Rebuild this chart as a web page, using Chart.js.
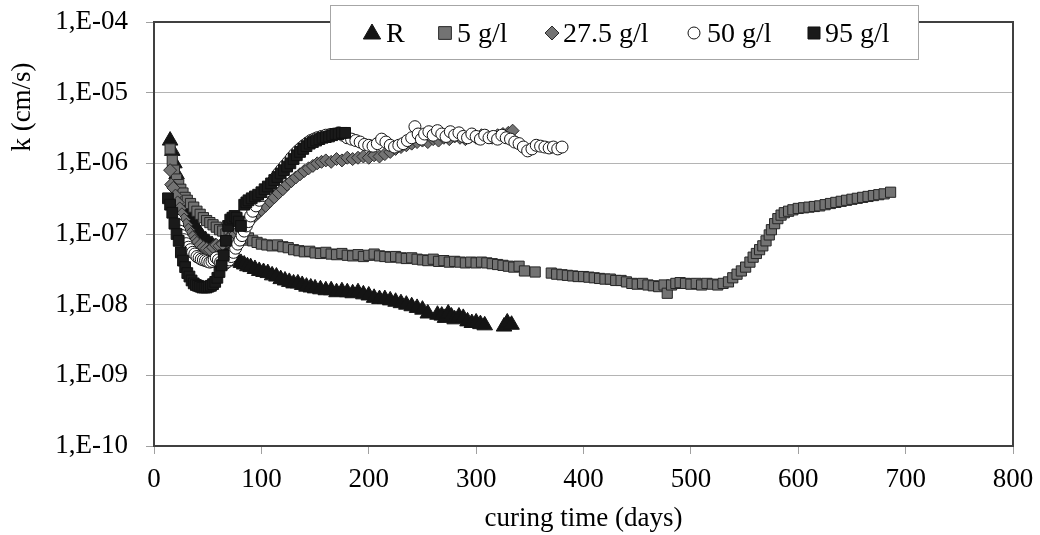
<!DOCTYPE html>
<html>
<head>
<meta charset="utf-8">
<script src="https://cdn.jsdelivr.net/npm/chart.js@4/dist/chart.umd.min.js"></script>
<style>
  html, body { margin: 0; padding: 0; background: #fff; }
  #wrap { width: 1040px; height: 535px; }
</style>
</head>
<body>
<div id="wrap"><canvas id="kChart"></canvas></div>
<script>
// series names (legend order)
const seriesNames = ["R", "5 g/l", "27.5 g/l", "50 g/l", "95 g/l"];

// R - reference
const rDays = [15, 17, 19, 21, 23, 25, 27, 29, 31, 33, 35, 37, 39, 41, 43, 45, 48, 51, 54, 57, 60, 63, 66, 69, 72, 75, 78, 81, 84, 87, 90, 94, 98, 102, 106, 110, 114, 118, 122, 126, 130, 134, 138, 142, 146, 150, 155, 160, 165, 170, 175, 180, 185, 190, 195, 200, 205, 210, 215, 220, 225, 230, 235, 240, 245, 250, 255, 264, 268, 271, 274, 277, 280, 284, 288, 292, 296, 300, 304, 308, 326, 329, 333];
const rK = [2.1e-6, 1.5e-6, 1.0e-6, 7e-7, 5e-7, 4e-7, 3.2e-7, 2.6e-7, 2.2e-7, 1.9e-7, 1.6e-7, 1.4e-7, 1.25e-7, 1.1e-7, 1.0e-7, 9e-8, 8.2e-8, 7.5e-8, 7e-8, 6.5e-8, 6e-8, 5.6e-8, 5.2e-8, 4.9e-8, 4.6e-8, 4.4e-8, 4.1e-8, 3.9e-8, 3.7e-8, 3.5e-8, 3.4e-8, 3.2e-8, 3.0e-8, 2.9e-8, 2.8e-8, 2.6e-8, 2.5e-8, 2.3e-8, 2.2e-8, 2.1e-8, 2.0e-8, 2.0e-8, 1.9e-8, 1.8e-8, 1.75e-8, 1.7e-8, 1.65e-8, 1.6e-8, 1.6e-8, 1.5e-8, 1.55e-8, 1.5e-8, 1.45e-8, 1.5e-8, 1.4e-8, 1.35e-8, 1.25e-8, 1.2e-8, 1.2e-8, 1.15e-8, 1.1e-8, 1.05e-8, 1.0e-8, 9.5e-9, 9e-9, 8.5e-9, 7.5e-9, 7.2e-9, 7e-9, 6.5e-9, 7.5e-9, 6.8e-9, 6.2e-9, 6.8e-9, 6.5e-9, 5.8e-9, 5.5e-9, 5.6e-9, 5.3e-9, 5.1e-9, 4.9e-9, 5.6e-9, 5.2e-9];

// 5 g/l
const s5Days = [15, 17, 19, 21, 23, 25, 27, 29, 31, 34, 37, 40, 43, 46, 49, 52, 55, 58, 61, 64, 67, 70, 73, 76, 80, 84, 88, 92, 96, 100, 105, 110, 115, 120, 125, 130, 135, 140, 145, 150, 155, 160, 165, 170, 175, 180, 185, 190, 195, 200, 205, 210, 215, 220, 225, 230, 235, 240, 245, 250, 255, 260, 265, 270, 275, 280, 285, 290, 295, 300, 305, 310, 315, 320, 325, 330, 335, 340, 345, 355, 370, 375, 380, 385, 390, 395, 400, 405, 410, 415, 420, 425, 430, 435, 440, 445, 450, 455, 460, 465, 470, 475, 478, 482, 486, 490, 495, 500, 505, 510, 515, 520, 525, 530, 535, 539, 543, 547, 551, 555, 558, 561, 564, 567, 570, 573, 575, 578, 581, 584, 587, 591, 595, 600, 605, 610, 615, 620, 625, 630, 635, 640, 645, 650, 655, 660, 665, 670, 675, 680, 686];
const s5K = [1.6e-6, 1.1e-6, 8e-7, 6e-7, 5e-7, 4.3e-7, 3.8e-7, 3.3e-7, 3e-7, 2.7e-7, 2.4e-7, 2.1e-7, 1.9e-7, 1.7e-7, 1.55e-7, 1.45e-7, 1.35e-7, 1.25e-7, 1.15e-7, 1.1e-7, 1.0e-7, 9.5e-8, 9e-8, 8.5e-8, 8.5e-8, 8.2e-8, 8.8e-8, 8.0e-8, 7.6e-8, 7.2e-8, 7.0e-8, 6.8e-8, 7.0e-8, 6.6e-8, 6.4e-8, 6.0e-8, 5.8e-8, 5.6e-8, 5.7e-8, 5.4e-8, 5.3e-8, 5.5e-8, 5.2e-8, 5.1e-8, 5.3e-8, 5.0e-8, 4.9e-8, 5.1e-8, 4.8e-8, 5.0e-8, 5.2e-8, 4.9e-8, 4.8e-8, 4.7e-8, 4.8e-8, 4.6e-8, 4.5e-8, 4.6e-8, 4.4e-8, 4.3e-8, 4.2e-8, 4.4e-8, 4.1e-8, 4.2e-8, 4.0e-8, 4.1e-8, 4.0e-8, 3.9e-8, 4.0e-8, 3.9e-8, 4.0e-8, 3.9e-8, 3.8e-8, 3.7e-8, 3.6e-8, 3.5e-8, 3.4e-8, 3.5e-8, 3.0e-8, 2.9e-8, 2.8e-8, 2.7e-8, 2.65e-8, 2.6e-8, 2.55e-8, 2.5e-8, 2.5e-8, 2.45e-8, 2.4e-8, 2.35e-8, 2.3e-8, 2.3e-8, 2.2e-8, 2.2e-8, 2.1e-8, 2.0e-8, 1.95e-8, 2.0e-8, 1.9e-8, 1.85e-8, 1.8e-8, 1.9e-8, 1.45e-8, 1.9e-8, 2.0e-8, 2.05e-8, 2.0e-8, 1.95e-8, 2.0e-8, 1.9e-8, 2.0e-8, 1.95e-8, 1.9e-8, 2.0e-8, 2.1e-8, 2.4e-8, 2.7e-8, 3.0e-8, 3.4e-8, 4.0e-8, 4.7e-8, 5.3e-8, 6.0e-8, 6.8e-8, 8.0e-8, 9.7e-8, 1.15e-7, 1.4e-7, 1.65e-7, 1.85e-7, 2.0e-7, 2.1e-7, 2.2e-7, 2.3e-7, 2.35e-7, 2.4e-7, 2.45e-7, 2.5e-7, 2.6e-7, 2.7e-7, 2.8e-7, 2.9e-7, 3.0e-7, 3.1e-7, 3.2e-7, 3.3e-7, 3.4e-7, 3.5e-7, 3.6e-7, 3.7e-7, 3.9e-7];

// 27.5 g/l
const s27Days = [15, 16, 18, 20, 22, 24, 26, 28, 30, 32, 34, 36, 38, 40, 43, 46, 49, 52, 55, 58, 61, 64, 67, 70, 73, 76, 79, 82, 85, 88, 91, 94, 97, 100, 104, 108, 112, 116, 120, 124, 128, 132, 136, 140, 144, 148, 152, 156, 160, 165, 170, 175, 180, 185, 190, 195, 200, 205, 210, 215, 220, 225, 230, 235, 240, 245, 250, 255, 260, 265, 270, 275, 280, 285, 290, 295, 300, 305, 310, 315, 320, 325, 330, 334];
const s27K = [8e-7, 5e-7, 4.5e-7, 3.5e-7, 2.8e-7, 2.3e-7, 1.9e-7, 1.6e-7, 1.35e-7, 1.15e-7, 1.0e-7, 9e-8, 8e-8, 7.5e-8, 7e-8, 6.5e-8, 6.2e-8, 6e-8, 6.5e-8, 7e-8, 6.8e-8, 7.2e-8, 8e-8, 8.8e-8, 9.5e-8, 1.0e-7, 1.1e-7, 1.2e-7, 1.3e-7, 1.5e-7, 1.65e-7, 1.8e-7, 2.0e-7, 2.2e-7, 2.5e-7, 2.9e-7, 3.3e-7, 3.8e-7, 4.3e-7, 5e-7, 5.6e-7, 6.3e-7, 7e-7, 7.8e-7, 8.5e-7, 9.2e-7, 1.0e-6, 1.05e-6, 1.1e-6, 1.05e-6, 1.15e-6, 1.1e-6, 1.2e-6, 1.15e-6, 1.2e-6, 1.25e-6, 1.2e-6, 1.3e-6, 1.25e-6, 1.35e-6, 1.45e-6, 1.6e-6, 1.7e-6, 1.8e-6, 1.9e-6, 2.0e-6, 2.1e-6, 2.0e-6, 2.2e-6, 2.1e-6, 2.3e-6, 2.2e-6, 2.4e-6, 2.3e-6, 2.2e-6, 2.4e-6, 2.3e-6, 2.5e-6, 2.4e-6, 2.3e-6, 2.5e-6, 2.6e-6, 2.7e-6, 2.9e-6];

// 50 g/l
const s50Days = [20, 22, 24, 26, 28, 30, 32, 34, 36, 38, 40, 42, 44, 46, 48, 50, 52, 54, 56, 58, 60, 62, 64, 66, 68, 70, 72, 74, 76, 78, 80, 82, 84, 86, 88, 90, 92, 95, 98, 101, 104, 107, 110, 113, 116, 119, 122, 125, 128, 131, 134, 137, 140, 143, 146, 149, 152, 156, 160, 164, 168, 172, 176, 180, 184, 188, 192, 196, 200, 204, 208, 212, 216, 220, 224, 228, 232, 236, 240, 243, 246, 249, 252, 256, 260, 264, 268, 272, 276, 280, 284, 288, 292, 296, 300, 304, 308, 312, 316, 320, 324, 328, 332, 336, 340, 344, 348, 352, 356, 360, 364, 368, 372, 376, 380];
const s50K = [1.6e-7, 1.35e-7, 1.1e-7, 9.5e-8, 8.3e-8, 7.3e-8, 6.5e-8, 6e-8, 5.5e-8, 5.2e-8, 4.8e-8, 4.6e-8, 4.4e-8, 4.3e-8, 4.2e-8, 4.1e-8, 4.0e-8, 4.1e-8, 4.3e-8, 4.6e-8, 4.3e-8, 4.0e-8, 3.9e-8, 3.8e-8, 4.0e-8, 4.3e-8, 4.8e-8, 5.5e-8, 6.3e-8, 7.2e-8, 8.2e-8, 9.5e-8, 1.1e-7, 1.3e-7, 1.5e-7, 1.8e-7, 2.1e-7, 2.5e-7, 3.0e-7, 3.5e-7, 4.0e-7, 4.6e-7, 5.4e-7, 6.2e-7, 7.2e-7, 8.2e-7, 9.3e-7, 1.05e-6, 1.2e-6, 1.35e-6, 1.5e-6, 1.65e-6, 1.8e-6, 1.95e-6, 2.1e-6, 2.2e-6, 2.3e-6, 2.4e-6, 2.5e-6, 2.55e-6, 2.6e-6, 2.7e-6, 2.5e-6, 2.3e-6, 2.2e-6, 2.1e-6, 2.0e-6, 1.85e-6, 1.8e-6, 1.75e-6, 1.9e-6, 2.2e-6, 2.0e-6, 1.8e-6, 1.7e-6, 1.8e-6, 1.9e-6, 2.1e-6, 2.3e-6, 3.3e-6, 2.6e-6, 2.2e-6, 2.6e-6, 2.8e-6, 2.5e-6, 2.9e-6, 2.6e-6, 2.4e-6, 2.8e-6, 2.5e-6, 2.7e-6, 2.4e-6, 2.3e-6, 2.6e-6, 2.4e-6, 2.2e-6, 2.5e-6, 2.3e-6, 2.4e-6, 2.2e-6, 2.5e-6, 2.3e-6, 2.2e-6, 2.0e-6, 1.9e-6, 1.7e-6, 1.5e-6, 1.6e-6, 1.8e-6, 1.75e-6, 1.7e-6, 1.65e-6, 1.7e-6, 1.6e-6, 1.7e-6];

// 95 g/l
const s95Days = [13, 15, 17, 19, 21, 23, 25, 27, 29, 31, 33, 35, 37, 39, 41, 43, 45, 47, 49, 51, 53, 55, 57, 59, 61, 63, 65, 67, 69, 71, 73, 75, 77, 79, 81, 84, 86, 88, 91, 94, 97, 100, 103, 106, 109, 112, 115, 118, 121, 124, 127, 130, 133, 136, 139, 142, 145, 148, 151, 154, 157, 160, 163, 166, 169, 172, 175, 178];
const s95K = [3.2e-7, 2.6e-7, 2.0e-7, 1.4e-7, 1.0e-7, 8e-8, 5.5e-8, 4.2e-8, 3.4e-8, 2.8e-8, 2.5e-8, 2.2e-8, 2.0e-8, 1.9e-8, 1.85e-8, 1.8e-8, 1.75e-8, 1.75e-8, 1.75e-8, 1.8e-8, 1.85e-8, 1.95e-8, 2.1e-8, 2.4e-8, 2.9e-8, 3.6e-8, 5e-8, 8e-8, 1.3e-7, 1.6e-7, 1.7e-7, 1.8e-7, 1.7e-7, 1.5e-7, 1.3e-7, 2.6e-7, 2.8e-7, 3.0e-7, 3.2e-7, 3.4e-7, 3.6e-7, 3.9e-7, 4.3e-7, 4.7e-7, 5.2e-7, 5.8e-7, 6.4e-7, 7.2e-7, 8e-7, 9e-7, 1.0e-6, 1.15e-6, 1.3e-6, 1.45e-6, 1.6e-6, 1.75e-6, 1.9e-6, 2.0e-6, 2.1e-6, 2.2e-6, 2.3e-6, 2.35e-6, 2.4e-6, 2.5e-6, 2.6e-6, 2.6e-6, 2.7e-6, 2.7e-6];

// axis ticks
const yTicks = [1e-10, 1e-9, 1e-8, 1e-7, 1e-6, 1e-5, 1e-4];
const yTickLabels = ["1,E-10", "1,E-09", "1,E-08", "1,E-07", "1,E-06", "1,E-05", "1,E-04"];
const xTicks = [0, 100, 200, 300, 400, 500, 600, 700, 800];

const xTitle = "curing time (days)";
const yTitle = "k (cm/s)";

const FONT = "'Liberation Serif', 'Times New Roman', serif";

function pts(xs, ys) {
    return xs.map((x, i) => ({ x: x, y: ys[i] }));
}

const styles = [
    { pointStyle: "triangle", radius: 9, bg: "#141414", border: "#141414", legR: 10 },
    { pointStyle: "rect", radius: 7.2, bg: "#737373", border: "#262626", legR: 9 },
    { pointStyle: "rectRot", radius: 6.5, bg: "#737373", border: "#2a2a2a", legR: 7 },
    { pointStyle: "circle", radius: 6, bg: "#ffffff", border: "#141414", legR: 6 },
    { pointStyle: "rect", radius: 7.6, bg: "#1a1a1a", border: "#111111", legR: 8.5 }
];
const allData = [pts(rDays, rK), pts(s5Days, s5K), pts(s27Days, s27K), pts(s50Days, s50K), pts(s95Days, s95K)];

const datasets = allData.map((d, i) => ({
    label: seriesNames[i],
    data: d,
    showLine: false,
    pointStyle: styles[i].pointStyle,
    pointRadius: styles[i].radius,
    pointBackgroundColor: styles[i].bg,
    pointBorderColor: styles[i].border,
    pointBorderWidth: 1,
    order: 4 - i
}));

function marker(ctx, style, x, y, r) {
    ctx.beginPath();
    if (style === "triangle") {
        ctx.moveTo(x, y - r);
        ctx.lineTo(x + r * 0.866, y + r * 0.5);
        ctx.lineTo(x - r * 0.866, y + r * 0.5);
        ctx.closePath();
    } else if (style === "rect") {
        let s = r / Math.SQRT2;
        ctx.rect(x - s, y - s, 2 * s, 2 * s);
    } else if (style === "rectRot") {
        ctx.moveTo(x, y - r);
        ctx.lineTo(x + r, y);
        ctx.lineTo(x, y + r);
        ctx.lineTo(x - r, y);
        ctx.closePath();
    } else {
        ctx.arc(x, y, r, 0, Math.PI * 2);
    }
    ctx.fill();
    ctx.stroke();
}

const framePlugin = {
    id: "frame",
    beforeDatasetsDraw(chart) {
        const a = chart.chartArea, ctx = chart.ctx;
        ctx.save();
        ctx.strokeStyle = "#404040";
        ctx.lineWidth = 2;
        ctx.beginPath();
        ctx.moveTo(a.left, a.top);
        ctx.lineTo(a.right, a.top);
        ctx.lineTo(a.right, a.bottom);
        ctx.stroke();
        ctx.restore();
    },
    afterDraw(chart) {
        const ctx = chart.ctx;
        ctx.save();
        // y axis title
        ctx.fillStyle = "#000";
        ctx.font = "27px " + FONT;
        ctx.textAlign = "center";
        ctx.textBaseline = "middle";
        ctx.translate(23, 107);
        ctx.rotate(-Math.PI / 2);
        ctx.fillText(yTitle, 0, 0);
        ctx.restore();

        // legend box
        ctx.save();
        ctx.fillStyle = "#fff";
        ctx.strokeStyle = "#a6a6a6";
        ctx.lineWidth = 1;
        ctx.fillRect(330, 5, 588, 54);
        ctx.strokeRect(330.5, 5.5, 588, 54);
        const mx = [372, 445, 552, 694, 814];
        const tx = [386, 457, 563, 707, 825];
        ctx.font = "28px " + FONT;
        ctx.textBaseline = "alphabetic";
        seriesNames.forEach((name, i) => {
            ctx.fillStyle = styles[i].bg;
            ctx.strokeStyle = styles[i].border;
            ctx.lineWidth = 1;
            marker(ctx, styles[i].pointStyle, mx[i], i === 0 ? 34 : 33, styles[i].legR);
            ctx.fillStyle = "#000";
            ctx.fillText(name, tx[i], 42);
        });
        ctx.restore();
    }
};

new Chart(document.getElementById("kChart"), {
    type: "scatter",
    data: { datasets: datasets },
    options: {
        responsive: true,
        maintainAspectRatio: false,
        animation: false,
        events: [],
        layout: { padding: { top: 22, right: 27, left: 0, bottom: 0 } },
        plugins: {
            legend: { display: false },
            tooltip: { enabled: false }
        },
        scales: {
            x: {
                type: "linear",
                min: 0,
                max: 800,
                afterBuildTicks: (s) => { s.ticks = xTicks.map(v => ({ value: v })); },
                afterFit: (s) => { s.height = 89; s.paddingLeft = 0; s.paddingRight = 0; },
                ticks: {
                    color: "#000",
                    font: { family: FONT, size: 27 },
                    padding: 10,
                    maxRotation: 0,
                    autoSkip: false
                },
                grid: { drawOnChartArea: false, drawTicks: true, tickLength: 8, tickColor: "#a0a0a0" },
                border: { color: "#404040", width: 2 },
                title: { display: true, text: xTitle, color: "#000", font: { family: FONT, size: 27 }, padding: 0 }
            },
            y: {
                type: "logarithmic",
                min: 1e-10,
                max: 1e-4,
                afterBuildTicks: (s) => { s.ticks = yTicks.map(v => ({ value: v })); },
                afterFit: (s) => { s.width = 154; s.paddingTop = 0; s.paddingBottom = 0; },
                ticks: {
                    color: "#000",
                    font: { family: FONT, size: 27 },
                    padding: 18,
                    autoSkip: false,
                    callback: (v) => yTickLabels[yTicks.indexOf(v)]
                },
                grid: { color: "#b4b4b4", lineWidth: 1, drawTicks: true, tickLength: 8, tickColor: "#a0a0a0" },
                border: { color: "#404040", width: 2 }
            }
        }
    },
    plugins: [framePlugin]
});
</script>
</body>
</html>
